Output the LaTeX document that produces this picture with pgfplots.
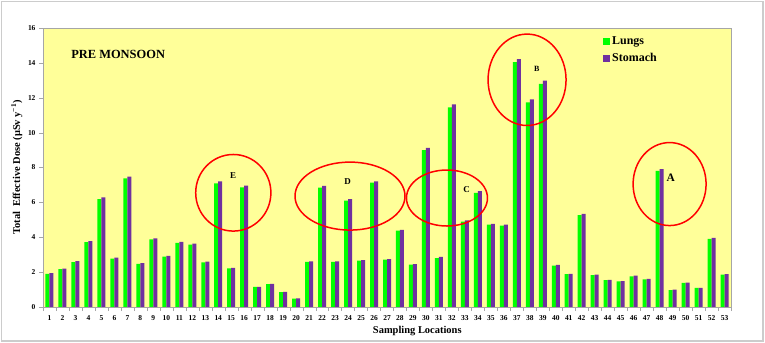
\documentclass[border=0pt]{standalone}
\usepackage{pgfplots}
\pgfplotsset{compat=1.18}
\usepackage{pgfplotstable}
\usepackage{fontspec}
\setmainfont{Liberation Serif}
\definecolor{lungs}{HTML}{00FF00}
\definecolor{stomach}{HTML}{7030A0}
\definecolor{bgy}{HTML}{FFFF99}
\pgfplotstableread{
x L S
1 1.90 1.94
2 2.17 2.20
3 2.58 2.63
4 3.72 3.78
5 6.18 6.28
6 2.78 2.83
7 7.38 7.47
8 2.48 2.52
9 3.88 3.94
10 2.89 2.93
11 3.68 3.73
12 3.58 3.63
13 2.56 2.60
14 7.09 7.20
15 2.21 2.25
16 6.86 6.96
17 1.15 1.16
18 1.31 1.32
19 0.86 0.87
20 0.48 0.49
21 2.59 2.61
22 6.85 6.94
23 2.59 2.61
24 6.10 6.19
25 2.66 2.69
26 7.13 7.21
27 2.71 2.75
28 4.38 4.43
29 2.43 2.46
30 9.00 9.13
31 2.81 2.87
32 11.45 11.62
33 4.89 4.97
34 6.55 6.65
35 4.72 4.76
36 4.66 4.73
37 14.05 14.22
38 11.74 11.91
39 12.80 12.98
40 2.37 2.41
41 1.88 1.90
42 5.27 5.34
43 1.83 1.86
44 1.54 1.56
45 1.47 1.49
46 1.76 1.80
47 1.59 1.61
48 7.80 7.90
49 0.97 0.99
50 1.38 1.40
51 1.09 1.10
52 3.90 3.96
53 1.85 1.89
}\data
\begin{document}
\begin{tikzpicture}
\useasboundingbox (0,0) rectangle (765bp,343bp);
\draw[gray!40, line width=1.2bp] (1.5bp,2bp) rectangle (763bp,341.5bp);
\begin{axis}[
  at={(43bp,36bp)}, anchor=south west,
  scale only axis, width=688bp, height=279bp,
  ybar=0pt, bar width=4bp,
  xmin=0.5, xmax=53.5, ymin=0, ymax=16,
  axis background/.style={fill=bgy},
  axis line style={gray!70},
  xtick={1,...,53},
  minor xtick={0.5,1.5,...,53.5},
  ytick={0,2,...,16},
  major x tick style={draw=none},
  minor x tick style={gray!70},
  y tick style={gray!70},
  tick align=outside,
  major tick length=4bp, minor tick length=4bp,
  ytick pos=left, xtick pos=bottom,
  /pgf/number format/assume math mode=true,
  ticklabel style={font=\bfseries\fontsize{7.5}{8}\selectfont},
  xticklabel style={yshift=-1bp},
  ylabel={Total\ \ Effective Dose (μSv y\textsuperscript{−1})},
  ylabel style={at={(axis description cs:-0.038,0.5)}, anchor=center, font=\bfseries\fontsize{10.5}{12}\selectfont},
  xlabel={Sampling Locations},
  xlabel style={at={(axis description cs:0.544,-0.086)}, anchor=center, font=\bfseries\fontsize{10.5}{12}\selectfont},
  legend style={at={(axis description cs:0.814,0.975)}, anchor=north west, draw=none, fill=none,
    font=\bfseries\fontsize{12}{13}\selectfont, row sep=3bp, inner sep=0pt,
    /tikz/every even column/.append style={column sep=2bp}},
  legend cell align=left,
]
\addplot[fill=lungs, draw=none, legend image code/.code={\fill[lungs] (0bp,-3.5bp) rectangle (7bp,3.5bp);}] table[x=x, y=L] {\data};
\addlegendentry{Lungs}
\addplot[fill=stomach, draw=none, legend image code/.code={\fill[stomach] (0bp,-3.5bp) rectangle (7bp,3.5bp);}] table[x=x, y=S] {\data};
\addlegendentry{Stomach}
\node[anchor=west, font=\bfseries\fontsize{12.5}{14}\selectfont] at (rel axis cs:0.036,0.907) {PRE MONSOON};
\draw[red, line width=1.5bp] (axis cs:15.16,6.55) ellipse [x radius=37.6bp, y radius=38.3bp];
\draw[red, line width=1.5bp] (axis cs:24.15,6.36) ellipse [x radius=55bp, y radius=34bp];
\draw[red, line width=1.5bp] (axis cs:31.62,6.25) ellipse [x radius=40.5bp, y radius=28bp];
\draw[red, line width=1.5bp] (axis cs:37.79,13.03) ellipse [x radius=39bp, y radius=45.7bp];
\draw[red, line width=1.5bp] (axis cs:48.77,7.05) ellipse [x radius=36.5bp, y radius=41.5bp];
\node[font=\bfseries\fontsize{9}{10}\selectfont] at (axis cs:15.15,7.53) {E};
\node[font=\bfseries\fontsize{9}{10}\selectfont] at (axis cs:23.97,7.22) {D};
\node[font=\bfseries\fontsize{9}{10}\selectfont] at (axis cs:33.14,6.75) {C};
\node[font=\bfseries\fontsize{8}{10}\selectfont] at (axis cs:38.54,13.63) {B};
\node[font=\bfseries\fontsize{11.5}{12}\selectfont] at (axis cs:48.86,7.41) {A};
\end{axis}
\end{tikzpicture}
\end{document}
